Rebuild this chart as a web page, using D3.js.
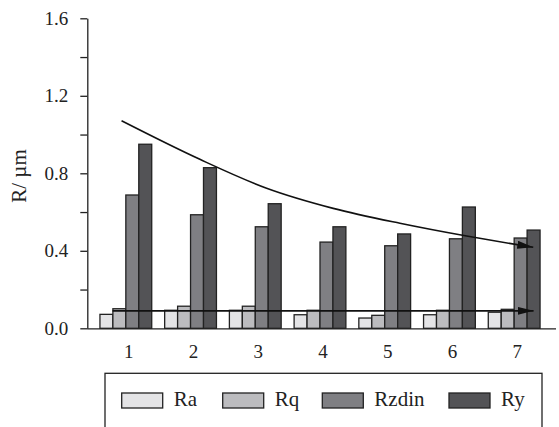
<!DOCTYPE html>
<html>
<head>
<meta charset="utf-8">
<script src="https://cdn.jsdelivr.net/npm/d3@7"></script>
<style>
  body { margin: 0; background: #fff; }
</style>
</head>
<body>
<div id="chart"></div>
<script>
var categories = ["1", "2", "3", "4", "5", "6", "7"];
var seriesNames = ["Ra", "Rq", "Rzdin", "Ry"];
var ra    = [0.072, 0.093, 0.093, 0.070, 0.053, 0.070, 0.083];
var rq    = [0.101, 0.114, 0.114, 0.093, 0.067, 0.093, 0.098];
var rzdin = [0.688, 0.586, 0.524, 0.445, 0.426, 0.462, 0.466];
var ry    = [0.950, 0.829, 0.643, 0.524, 0.487, 0.626, 0.507];
var yTicks = [0, 0.2, 0.4, 0.6, 0.8, 1.0, 1.2, 1.4, 1.6];

// trend lines, x in category units (1 = first group)
var trendX = [0.934, 2.144, 3.175, 4.204, 5.235, 6.266, 7.295];
var trendY = [1.071, 0.872, 0.723, 0.619, 0.542, 0.476, 0.418];
var flatX = [0.795, 7.30];
var flatY = [0.09, 0.09];

var colors = ["#e4e4e6", "#bcbcbf", "#7f7f83", "#535356"];
var fontName = "Liberation Serif";
var w = 559, h = 427;

var svg = d3.select("#chart").append("svg")
    .attr("width", w)
    .attr("height", h)
    .attr("font-family", fontName);

var y = d3.scaleLinear().domain([0, 1.6]).range([328.3, 18.3]);
var x0 = d3.scaleBand().domain(categories).range([87, 553])
    .paddingInner(0.2).paddingOuter(0.2);
var x1 = d3.scaleBand().domain(seriesNames).range([0, x0.bandwidth()]);
var xu = d3.scaleLinear().domain([1, 7])
    .range([x0("1") + x0.bandwidth() / 2, x0("7") + x0.bandwidth() / 2]);

var rows = categories.map(function(c, i) {
    return { cat: c, vals: [ra[i], rq[i], rzdin[i], ry[i]] };
});

// bars
var groups = svg.selectAll("g.grp")
    .data(rows)
    .enter()
    .append("g")
    .attr("class", "grp")
    .attr("transform", function(d) { return "translate(" + x0(d.cat) + ",0)"; });

groups.selectAll("rect")
    .data(function(d) { return d.vals.map(function(v, j) { return { name: seriesNames[j], v: v, j: j }; }); })
    .enter()
    .append("rect")
    .attr("x", function(d) { return x1(d.name); })
    .attr("y", function(d) { return y(d.v); })
    .attr("width", x1.bandwidth())
    .attr("height", function(d) { return y(0) - y(d.v); })
    .style("fill", function(d) { return colors[d.j]; })
    .style("stroke", "#222")
    .style("stroke-width", 1.3);

// arrow marker
svg.append("defs").append("marker")
    .attr("id", "arrow")
    .attr("viewBox", "0 0 16 8")
    .attr("refX", 16)
    .attr("refY", 4)
    .attr("markerWidth", 16)
    .attr("markerHeight", 8)
    .attr("markerUnits", "userSpaceOnUse")
    .attr("orient", "auto")
    .append("path")
    .attr("d", "M0,0L16,4L0,8Z")
    .style("fill", "#111");

var line = d3.line()
    .x(function(d) { return xu(d[0]); })
    .y(function(d) { return y(d[1]); })
    .curve(d3.curveMonotoneX);

svg.append("path")
    .datum(d3.zip(flatX, flatY))
    .attr("d", line)
    .style("fill", "none")
    .style("stroke", "#111")
    .style("stroke-width", 1.6)
    .attr("marker-end", "url(#arrow)");

svg.append("path")
    .datum(d3.zip(trendX, trendY))
    .attr("d", line)
    .style("fill", "none")
    .style("stroke", "#111")
    .style("stroke-width", 1.6)
    .attr("marker-end", "url(#arrow)");

// y axis
var yAxis = d3.axisLeft(y)
    .tickValues(yTicks)
    .tickSize(7)
    .tickSizeOuter(0)
    .tickPadding(12)
    .tickFormat(function(d) {
        var k = Math.round(d * 10);
        return k % 4 === 0 ? d3.format(".1f")(d) : "";
    });

var gy = svg.append("g")
    .attr("transform", "translate(87.3,0)")
    .call(yAxis)
    .attr("font-family", fontName);
gy.selectAll("path, line").style("stroke", "#222").style("stroke-width", 1.3);
gy.selectAll("text")
    .style("font-family", fontName)
    .style("font-size", "19px")
    .style("fill", "#222");

// x axis
var xAxis = d3.axisBottom(x0).tickSize(0).tickSizeOuter(0).tickPadding(16);
var gx = svg.append("g")
    .attr("transform", "translate(0," + y(0) + ")")
    .call(xAxis)
    .attr("font-family", fontName);
gx.select(".domain").attr("d", "M87.3,0.5H556");
gx.selectAll("path").style("stroke", "#222").style("stroke-width", 1.3);
gx.selectAll("text")
    .attr("dx", 3)
    .style("font-family", fontName)
    .style("font-size", "19px")
    .style("fill", "#222");

// y label
svg.append("text")
    .attr("transform", "translate(26,176) rotate(-90)")
    .attr("text-anchor", "middle")
    .style("font-family", fontName)
    .style("font-size", "21px")
    .style("fill", "#222")
    .text("R/ \u00b5m");

// legend
svg.append("rect")
    .attr("x", 105)
    .attr("y", 373.3)
    .attr("width", 437)
    .attr("height", 70)
    .style("fill", "none")
    .style("stroke", "#222")
    .style("stroke-width", 1.3);

var legendX = [121.7, 222.7, 322.3, 449];
var leg = svg.selectAll("g.leg")
    .data(seriesNames)
    .enter()
    .append("g")
    .attr("class", "leg")
    .attr("transform", function(d, i) { return "translate(" + legendX[i] + ",393)"; });

leg.append("rect")
    .attr("width", 41)
    .attr("height", 15)
    .style("fill", function(d, i) { return colors[i]; })
    .style("stroke", "#222")
    .style("stroke-width", 1.3);

leg.append("text")
    .attr("x", 52)
    .attr("y", 13)
    .style("font-family", fontName)
    .style("font-size", "21px")
    .style("fill", "#222")
    .text(function(d) { return d; });
</script>
</body>
</html>
